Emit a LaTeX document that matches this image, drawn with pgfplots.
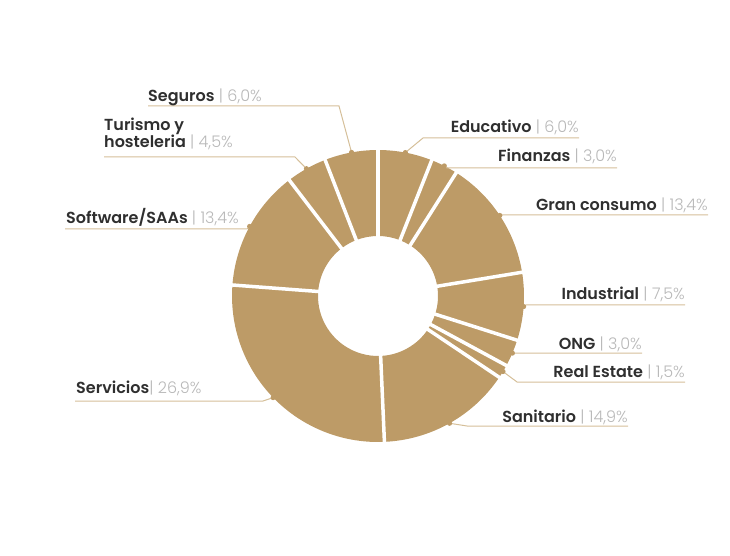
\documentclass[border=0pt]{standalone}
\usepackage{fontspec}
\setmainfont{Poppins}
\newfontfamily\psemi{Poppins SemiBold}
\newfontfamily\plight{Poppins Light}
\usepackage{pgfplots}
\usepackage{pgfplotstable}
\pgfplotsset{compat=1.18}

\definecolor{donut}{HTML}{BD9B67}
\definecolor{leader}{HTML}{D5BF99}
\definecolor{namec}{HTML}{2F2F2F}
\definecolor{valc}{HTML}{B8B8B8}

% shares in %, clockwise from 12 o'clock
\pgfplotstableread{
share
6.0
3.0
13.4
7.5
3.0
1.5
14.9
26.9
13.4
4.5
6.0
}\shares

\newcommand{\lab}[2]{{\psemi\color{namec}#1} {\plight\color{valc}| #2}}
\tikzset{lbl/.style={inner sep=0pt,font=\fontsize{16}{19}\selectfont}}

\begin{document}
\begin{tikzpicture}
\begin{axis}[
    x=1pt, y=1pt,
    xmin=0, xmax=730, ymin=0, ymax=555,
    scale only axis,
    hide axis,
    clip=false,
]
\pgfplotsextra{
  \def\cx{378}\def\cy{259}\def\ro{146}\def\ri{60}
  \pgfplotstablegetrowsof{\shares}
  \pgfmathtruncatemacro{\nlast}{\pgfplotsretval-1}
  \gdef\cum{0}
  % wedges
  \foreach \i in {0,...,\nlast}{
    \pgfplotstablegetelem{\i}{share}\of{\shares}
    \let\val\pgfplotsretval
    \pgfmathsetmacro{\aone}{90-3.6*\cum}
    \pgfmathsetmacro{\atwo}{90-3.6*(\cum+\val)}
    \pgfmathsetmacro{\amid}{(\aone+\atwo)/2}
    \pgfmathsetmacro{\xo}{\cx+\ro*cos(\aone)}
    \pgfmathsetmacro{\yo}{\cy+\ro*sin(\aone)}
    \pgfmathsetmacro{\xin}{\cx+\ri*cos(\atwo)}
    \pgfmathsetmacro{\yin}{\cy+\ri*sin(\atwo)}
    \fill[donut] (axis cs:\xo,\yo) arc[start angle=\aone,end angle=\atwo,radius=\ro pt]
      -- (axis cs:\xin,\yin) arc[start angle=\atwo,end angle=\aone,radius=\ri pt] -- cycle;
    \expandafter\xdef\csname amid\i\endcsname{\amid}
    \expandafter\xdef\csname aone\i\endcsname{\aone}
    \pgfmathsetmacro{\newcum}{\cum+\val}
    \global\let\cum\newcum
  }
  % white gaps
  \foreach \i in {0,...,\nlast}{
    \edef\a{\csname aone\i\endcsname}
    \pgfmathsetmacro{\xa}{\cx+50*cos(\a)}
    \pgfmathsetmacro{\ya}{\cy+50*sin(\a)}
    \pgfmathsetmacro{\xb}{\cx+152*cos(\a)}
    \pgfmathsetmacro{\yb}{\cy+152*sin(\a)}
    \draw[white,line width=3.5pt] (axis cs:\xa,\ya) -- (axis cs:\xb,\yb);
  }
  % leader lines
  \foreach \i/\ex/\ey/\lx in {0/423/417/579, 1/447/387/617, 2/502/340/708,
      3/526/250/685, 4/514/202/642, 5/517/173/685, 6/467/129/628,
      7/263/154/75, 8/247/326/65, 9/295/398/104, 10/339/449/148}{
    \edef\a{\csname amid\i\endcsname}
    \pgfmathsetmacro{\px}{\cx+\ro*cos(\a)}
    \pgfmathsetmacro{\py}{\cy+\ro*sin(\a)}
    \draw[leader,line width=1pt] (axis cs:\px,\py) -- (axis cs:\ex,\ey) -- (axis cs:\lx,\ey);
    \fill[donut] (axis cs:\px,\py) circle[radius=2.6pt];
  }
}
\node[lbl,anchor=base east] at (axis cs:579,422) {\lab{Educativo}{6,0\%}};
\node[lbl,anchor=base east] at (axis cs:617,393) {\lab{Finanzas}{3,0\%}};
\node[lbl,anchor=base east] at (axis cs:708,344) {\lab{Gran consumo}{13,4\%}};
\node[lbl,anchor=base east] at (axis cs:685,255) {\lab{Industrial}{7,5\%}};
\node[lbl,anchor=base east] at (axis cs:642,206) {\lab{ONG}{3,0\%}};
\node[lbl,anchor=base east] at (axis cs:685,178) {\lab{Real Estate}{1,5\%}};
\node[lbl,anchor=base east] at (axis cs:628,132.5) {\lab{Sanitario}{14,9\%}};
\node[lbl,anchor=base west] at (axis cs:76,161.5) {{\psemi\color{namec}Servicios}{\plight\color{valc}| 26,9\%}};
\node[lbl,anchor=base west] at (axis cs:66,331) {\lab{Software/SAAs}{13,4\%}};
\node[lbl,anchor=base west] at (axis cs:104,424) {{\psemi\color{namec}Turismo y}};
\node[lbl,anchor=base west] at (axis cs:104,407) {\lab{hosteleria}{4,5\%}};
\node[lbl,anchor=base west] at (axis cs:148,453) {\lab{Seguros}{6,0\%}};
\end{axis}
\pgfresetboundingbox
\path (current axis.south west) rectangle (current axis.north east);
\end{tikzpicture}
\end{document}
